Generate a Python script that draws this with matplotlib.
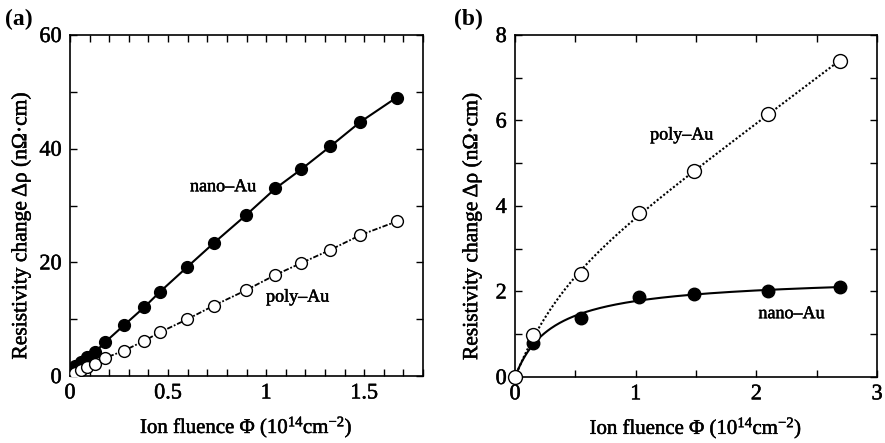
import numpy as np
import matplotlib
matplotlib.use("Agg")
import matplotlib.pyplot as plt
import matplotlib.patheffects as pe
from matplotlib.ticker import MultipleLocator

plt.rcParams["font.family"] = ["Liberation Serif", "DejaVu Serif"]
plt.rcParams["mathtext.fontset"] = "custom"
plt.rcParams["mathtext.rm"] = "Liberation Serif"
plt.rcParams["mathtext.default"] = "regular"

# (a) linear regime, fluence in 1e14 cm^-2, resistivity change in nOhm.cm
fluence_a = [0, 0.026, 0.055, 0.085, 0.13, 0.18, 0.277, 0.378, 0.458,
             0.598, 0.733, 0.897, 1.047, 1.18, 1.327, 1.48, 1.665]
nano_a = [0, 1.7, 2.5, 3.3, 4.3, 6.0, 9.0, 12.1, 14.8,
          19.2, 23.4, 28.3, 33.0, 36.4, 40.4, 44.7, 49.0]
poly_a = [0, 0.5, 1.05, 1.6, 2.2, 3.2, 4.5, 6.2, 7.7,
          10.0, 12.4, 15.1, 17.8, 19.9, 22.2, 24.8, 27.2]

# (b) higher fluence range
fluence_b = [0, 0.15, 0.545, 1.03, 1.48, 2.1, 2.69]
nano_b = [0, 0.80, 1.39, 1.87, 1.93, 2.01, 2.11]
poly_b = [0, 0.99, 2.40, 3.83, 4.82, 6.15, 7.39]

# thicken the serif text a little
thick = [pe.withStroke(linewidth=0.35, foreground="black")]


def fit_saturating(x, y, shape):
    """Least-squares fit of a*s(x/t) + b*x, scanning the scale t."""
    x = np.asarray(x, float)
    y = np.asarray(y, float)
    best = None
    for t in np.linspace(0.02, 3.0, 1000):
        A = np.column_stack([shape(x / t), x])
        coef, *_ = np.linalg.lstsq(A, y, rcond=None)
        err = np.sum((A @ coef - y) ** 2)
        if best is None or err < best[0]:
            best = (err, t, coef)
    _, t, (a, b) = best
    return lambda xx: a * shape(xx / t) + b * xx


def style_axes(ax):
    ax.tick_params(which="both", direction="in", top=True, right=True,
                   length=5, width=1, labelsize=16, pad=6)
    for lab in ax.get_xticklabels() + ax.get_yticklabels():
        lab.set_path_effects(thick)
    for sp in ax.spines.values():
        sp.set_linewidth(1.2)


fig = plt.figure(figsize=(8.85, 4.43), dpi=100)
ax1 = fig.add_axes([0.0791, 0.151, 0.3989, 0.770])
ax2 = fig.add_axes([0.582, 0.149, 0.409, 0.772])

ylab = "Resistivity change \u0394\u03c1 (n\u03a9\u00b7cm)"
xlab = "Ion fluence \u03a6 (10$^{14}$cm$^{-2}$)"
txt_kw = dict(ha="center", va="center", fontsize=13, path_effects=thick)

# panel (a)
ax1.plot(fluence_a, nano_a, "-", color="black", lw=1.5, marker="o",
         ms=8.5, mfc="black", mec="black", zorder=3)
ax1.plot(fluence_a, poly_a, linestyle=(0, (3, 1, 1, 1)), color="black",
         lw=1.3, marker="o", ms=8.5, mfc="white", mec="black", mew=1.0, zorder=3)
ax1.set_xlim(0, 1.8)
ax1.set_ylim(0, 60)
ax1.xaxis.set_minor_locator(MultipleLocator(0.1))
ax1.yaxis.set_minor_locator(MultipleLocator(10))
ax1.set_xticks([0, 0.5, 1, 1.5], ["0", "0.5", "1", "1.5"])
ax1.set_yticks([0, 20, 40, 60], ["0", "20", "40", "60"])
style_axes(ax1)
ax1.set_xlabel(xlab, fontsize=15, labelpad=8, path_effects=thick)
ax1.set_ylabel(ylab, fontsize=15.5, path_effects=thick)
ax1.yaxis.set_label_coords(-0.11, 0.44)
ax1.text(0.78, 33.3, "nano\u2013Au", **txt_kw)
ax1.text(1.16, 13.9, "poly\u2013Au", **txt_kw)
fig.text(0.006, 0.957, "(a)", fontsize=17, fontweight="bold", va="center")

# panel (b): fitted curves through the measured points
xs = np.linspace(0, fluence_b[-1], 300)
nano_fit = fit_saturating(fluence_b, nano_b, lambda u: u / (1 + u))
poly_fit = fit_saturating(fluence_b, poly_b, lambda u: 1 - np.exp(-u))
ax2.plot(xs, nano_fit(xs), "-", color="black", lw=1.5, zorder=2)
ax2.plot(xs, poly_fit(xs), linestyle=(0, (1, 1)), color="black", lw=1.5, zorder=2)
ax2.plot(fluence_b, nano_b, "o", ms=9, mfc="black", mec="black", zorder=3)
ax2.plot(fluence_b, poly_b, "o", ms=10, mfc="white", mec="black", mew=1.0,
         zorder=3, clip_on=False)
ax2.set_xlim(0, 3)
ax2.set_ylim(0, 8)
ax2.xaxis.set_minor_locator(MultipleLocator(0.5))
ax2.yaxis.set_minor_locator(MultipleLocator(1))
ax2.set_xticks([0, 1, 2, 3], ["0", "1", "2", "3"])
ax2.set_yticks([0, 2, 4, 6, 8], ["0", "2", "4", "6", "8"])
style_axes(ax2)
ax2.set_xlabel(xlab, fontsize=15, labelpad=8, path_effects=thick)
ax2.set_ylabel(ylab, fontsize=15.5, path_effects=thick)
ax2.yaxis.set_label_coords(-0.091, 0.44)
ax2.text(1.38, 5.66, "poly\u2013Au", **txt_kw)
ax2.text(2.29, 1.48, "nano\u2013Au", **txt_kw)
fig.text(0.513, 0.957, "(b)", fontsize=17, fontweight="bold", va="center")

fig.savefig("out.png", dpi=100)
